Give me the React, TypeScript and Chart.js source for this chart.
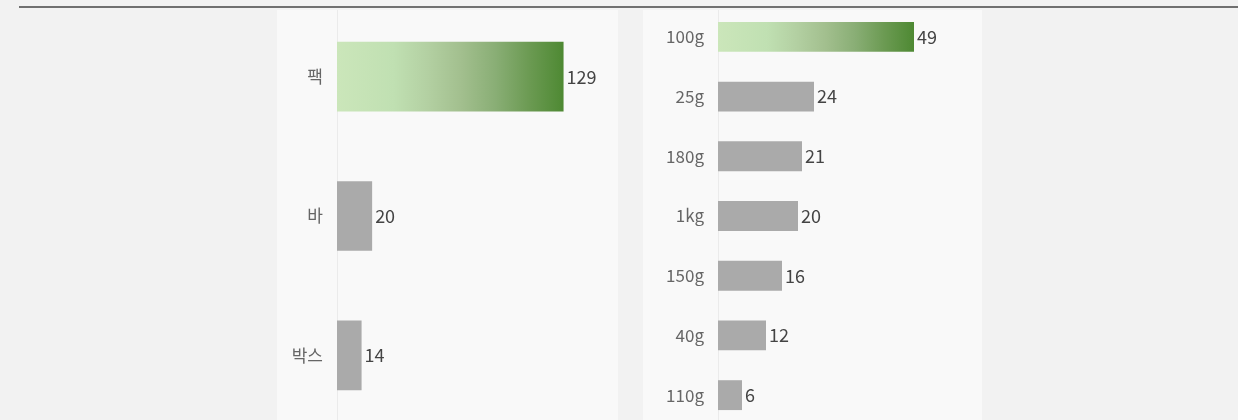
import React, { useEffect, useRef } from "react";
import { Chart, registerables } from "chart.js";

Chart.register(...registerables);

const leftCategories = ["팩", "바", "박스"];
const leftValues = [129, 20, 14];
const leftMax = 160;

const rightCategories = ["100g", "25g", "180g", "1kg", "150g", "40g", "110g"];
const rightValues = [49, 24, 21, 20, 16, 12, 6];
const rightMax = 66;

const FONT = "'Noto Sans CJK KR', 'Noto Sans', sans-serif";
const GRAY = "#aaaaaa";

const valueLabels = {
  id: "valueLabels",
  afterDatasetsDraw(chart: any) {
    const ctx = chart.ctx;
    const meta = chart.getDatasetMeta(0);
    const data = chart.data.datasets[0].data;
    ctx.save();
    ctx.font = `18px ${FONT}`;
    ctx.fillStyle = "#444444";
    ctx.textBaseline = "middle";
    ctx.textAlign = "left";
    meta.data.forEach((el: any, i: number) => {
      ctx.fillText(String(data[i]), el.x + 3, el.y);
    });
    ctx.restore();
  },
};

function barColor(context: any) {
  const chart = context.chart;
  if (context.dataIndex !== 0) return GRAY;
  const area = chart.chartArea;
  const xs = chart.scales && chart.scales.x;
  if (!area || !xs) return "#9dbf8a";
  const x0 = xs.getPixelForValue(0);
  const x1 = xs.getPixelForValue(context.raw);
  const g = chart.ctx.createLinearGradient(x0, 0, x1, 0);
  g.addColorStop(0, "#cbe6ba");
  g.addColorStop(0.25, "#c0e0b2");
  g.addColorStop(0.4, "#b3d0a2");
  g.addColorStop(0.55, "#a2bf8e");
  g.addColorStop(0.7, "#89ae75");
  g.addColorStop(0.85, "#6b9a52");
  g.addColorStop(1, "#4e8933");
  return g;
}

function BarPanel(props: {
  categories: string[];
  values: number[];
  max: number;
  axisWidth: number;
  left: number;
  width: number;
}) {
  const ref = useRef<HTMLCanvasElement | null>(null);
  useEffect(() => {
    if (!ref.current) return;
    const chart = new Chart(ref.current, {
      type: "bar",
      data: {
        labels: props.categories,
        datasets: [
          {
            data: props.values,
            backgroundColor: barColor as any,
            borderWidth: 0,
            categoryPercentage: 1,
            barPercentage: 0.5,
          },
        ],
      },
      options: {
        indexAxis: "y",
        animation: false,
        responsive: true,
        maintainAspectRatio: false,
        layout: { padding: 0 },
        plugins: {
          legend: { display: false },
          tooltip: { enabled: false },
          title: { display: false },
        },
        scales: {
          x: {
            display: false,
            min: 0,
            max: props.max,
          },
          y: {
            grid: { display: false, drawTicks: false },
            border: { display: true, color: "#ebebeb", width: 1 },
            ticks: {
              color: "#666666",
              font: { family: FONT, size: 17 },
              padding: 14,
            },
            afterFit: (s: any) => {
              s.width = props.axisWidth;
              s.paddingTop = 0;
              s.paddingBottom = 0;
            },
          },
        },
      },
      plugins: [valueLabels],
    });
    return () => chart.destroy();
  }, []);
  return (
    <div
      style={{
        position: "absolute",
        left: props.left,
        top: 10,
        width: props.width,
        height: 410,
        background: "#f9f9f9",
        overflow: "hidden",
      }}
    >
      <div style={{ position: "absolute", left: 0, top: -3, width: props.width, height: 418 }}>
        <canvas ref={ref} />
      </div>
    </div>
  );
}

export default function App() {
  return (
    <div
      style={{
        position: "fixed",
        left: 0,
        top: 0,
        width: 1238,
        height: 420,
        background: "#f2f2f2",
        overflow: "hidden",
      }}
    >
      <div
        style={{
          position: "absolute",
          left: 19,
          top: 6,
          width: 1219,
          height: 2,
          background: "#707070",
        }}
      />
      <BarPanel
        categories={leftCategories}
        values={leftValues}
        max={leftMax}
        axisWidth={60}
        left={277}
        width={341}
      />
      <BarPanel
        categories={rightCategories}
        values={rightValues}
        max={rightMax}
        axisWidth={75}
        left={643}
        width={339}
      />
    </div>
  );
}
